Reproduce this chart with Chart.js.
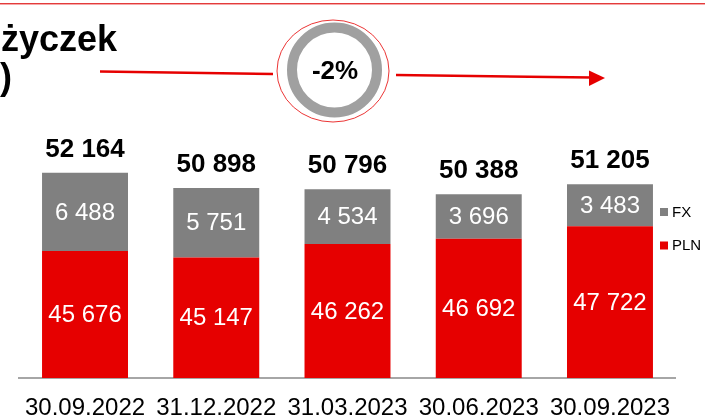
<!DOCTYPE html>
<html>
<head>
<meta charset="utf-8">
<script src="https://cdn.jsdelivr.net/npm/chart.js@4/dist/chart.umd.min.js"></script>
<style>
body{margin:0;background:#fff;}
#wrap{position:relative;width:705px;height:419px;overflow:hidden;font-family:Arial,"Liberation Sans",sans-serif;}
#c{position:absolute;left:0;top:0;}
.t{position:absolute;font-weight:bold;color:#000;white-space:nowrap;}
svg{position:absolute;left:0;top:0;}
</style>
</head>
<body>
<div id="wrap">
<canvas id="c" width="705" height="419"></canvas>
<svg width="705" height="419">
	<rect x="0" y="3" width="705" height="1" fill="#e33b3b"/>
	<rect x="0" y="4" width="705" height="1" fill="#f6a8a8"/>
	<line x1="100" y1="71.5" x2="273" y2="74" stroke="#e60000" stroke-width="2.5"/>
	<line x1="396" y1="75" x2="592" y2="77.5" stroke="#e60000" stroke-width="2.5"/>
	<polygon points="589,70.5 605,78 589,86" fill="#e60000"/>
	<ellipse cx="333" cy="71" rx="56" ry="51" fill="none" stroke="#e60000" stroke-width="0.8"/>
	<circle cx="334.5" cy="70" r="42.5" fill="none" stroke="#a0a0a0" stroke-width="10"/>
</svg>
<div class="t" style="left:1px;top:21px;font-size:36px;line-height:36px;">życzek</div>
<div class="t" style="left:0px;top:59px;font-size:36px;line-height:36px;">)</div>
<div class="t" style="left:285px;top:57px;width:100px;text-align:center;font-size:26px;line-height:26px;">-2%</div>
</div>
<script>
var categories = ['30.09.2022', '31.12.2022', '31.03.2023', '30.06.2023', '30.09.2023'];
var plnValues = [45676, 45147, 46262, 46692, 47722];
var fxValues = [6488, 5751, 4534, 3696, 3483];
var totals = [52164, 50898, 50796, 50388, 51205];
var seriesNames = ['PLN', 'FX'];

var red = '#e60000';
var grey = '#808080';

function fmt(n){
	return String(n).replace(/\B(?=(\d{3})+(?!\d))/g, ' ');
}

var labelPlugin = {
	id: 'labels',
	afterDatasetsDraw: function(chart){
		var ctx = chart.ctx;
		var area = chart.chartArea;
		ctx.save();
		ctx.textAlign = 'center';
		ctx.textBaseline = 'middle';
		ctx.fillStyle = '#fff';
		ctx.font = '24px Arial, "Liberation Sans", sans-serif';
		chart.data.datasets.forEach(function(ds, i){
			var meta = chart.getDatasetMeta(i);
			meta.data.forEach(function(bar, j){
				var base = Math.min(bar.base, area.bottom);
				ctx.fillText(fmt(ds.data[j]), bar.x, (bar.y + base) / 2 + 1);
			});
		});
		// totals above the stack
		var top = chart.getDatasetMeta(chart.data.datasets.length - 1);
		ctx.fillStyle = '#000';
		ctx.textBaseline = 'alphabetic';
		ctx.font = 'bold 26px Arial, "Liberation Sans", sans-serif';
		top.data.forEach(function(bar, j){
			ctx.fillText(fmt(totals[j]), bar.x, bar.y - 16);
		});
		// legend, FX above PLN
		var lx = area.right - 15.6;
		var ly = [212, 245.5];
		ctx.font = '15px Arial, "Liberation Sans", sans-serif';
		ctx.textAlign = 'left';
		ctx.textBaseline = 'middle';
		var order = chart.data.datasets.slice().reverse();
		order.forEach(function(ds, k){
			ctx.fillStyle = ds.backgroundColor;
			ctx.fillRect(lx, ly[k] - 4, 8, 8);
			ctx.fillStyle = '#000';
			ctx.fillText(ds.label, lx + 12, ly[k] + 0.5);
		});
		ctx.restore();
	}
};

var config = {};
config.type = 'bar';
config.data = {};
config.data.labels = categories;
config.data.datasets = [
	{label: seriesNames[0], data: plnValues, backgroundColor: red},
	{label: seriesNames[1], data: fxValues, backgroundColor: grey}
];
config.options = {
	animation: false,
	responsive: false,
	layout: {padding: {left: 19.4, right: 29.4, top: 100, bottom: -19}},
	plugins: {
		legend: {display: false},
		tooltip: {enabled: false}
	},
	datasets: {
		bar: {categoryPercentage: 0.655, barPercentage: 1}
	},
	scales: {
		x: {
			stacked: true,
			grid: {display: false, drawTicks: false},
			border: {display: true, color: '#a6a6a6', width: 2},
			ticks: {
				color: '#000',
				padding: 18,
				font: {family: 'Arial, "Liberation Sans", sans-serif', size: 24, lineHeight: 1}
			}
		},
		y: {
			stacked: true,
			display: false,
			min: 35150,
			max: 58200
		}
	}
};
config.plugins = [labelPlugin];
window.myBar = new Chart(document.getElementById('c'), config);
</script>
</body>
</html>
